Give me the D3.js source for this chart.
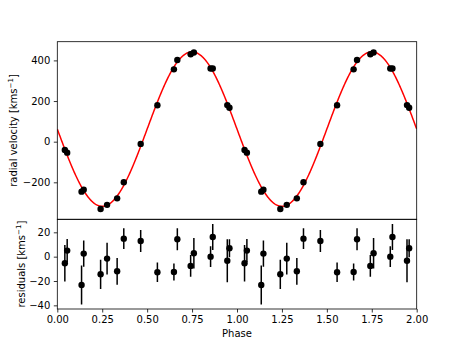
<!DOCTYPE html>
<html>
<head>
<meta charset="utf-8">
<script src="https://cdn.jsdelivr.net/npm/d3@7"></script>
<style>
  html, body { margin: 0; padding: 0; background: #fff; }
  text { font-family: "DejaVu Sans", sans-serif; }
</style>
</head>
<body>
<svg id="chart" width="463" height="347"></svg>
<script>
// ---- data ----
const phases    = [0.042, 0.055, 0.135, 0.147, 0.241, 0.277, 0.333, 0.370, 0.464, 0.557, 0.649, 0.668, 0.742, 0.760, 0.853, 0.865, 0.946, 0.958];
const rv        = [-41, -54, -246, -236, -331, -311, -279, -200, -11, 179, 356, 402, 430, 439, 360, 360, 180, 167];
const residuals = [-5.4, 5.0, -23.3, 2.5, -14.5, -1.6, -12.0, 14.8, 12.9, -12.8, -12.6, 14.3, -7.6, 2.8, 0.0, 16.2, -3.3, 6.9];
const resErr    = [15, 9.6, 16, 10.7, 12, 13, 11, 8.6, 9, 8, 7, 9, 9, 12.6, 8.5, 10.7, 17.7, 7.4];
// fitted model parameters: v = gamma - K sin(2*pi*phase)
const gamma = 62, K = 380;
const xTicks = [0, 0.25, 0.5, 0.75, 1.0, 1.25, 1.5, 1.75, 2.0];
const rvTicks = [-200, 0, 200, 400];
const resTicks = [-40, -20, 0, 20];

// ---- layout ----
const svg = d3.select("#chart");
const left = 57.3, right = 416.7;
const topT = 41.7, topB = 219.3, botB = 309;

const x = d3.scaleLinear().domain([0, 2]).range([left, right]);
const yTop = d3.scaleLinear().domain([-382, 492]).range([topB, topT]);
const yBot = d3.scaleLinear().domain([-43, 30.7]).range([botB, topB]);

const fmtX = d3.format(".2f");
const minus = s => String(s).replace("-", "\u2212");

// clip paths
const defs = svg.append("defs");
defs.append("clipPath").attr("id", "clipTop").append("rect")
  .attr("x", left).attr("y", topT).attr("width", right - left).attr("height", topB - topT);
defs.append("clipPath").attr("id", "clipBot").append("rect")
  .attr("x", left).attr("y", topB).attr("width", right - left).attr("height", botB - topB);

// duplicated points over two cycles
const pts = [];
for (let c = 0; c < 2; c++) {
  phases.forEach((p, i) => pts.push({ph: p + c, v: rv[i], r: residuals[i], e: resErr[i]}));
}

// ---- top panel ----
const gTop = svg.append("g");
const curve = d3.range(0, 2.0001, 0.002).map(p => [p, gamma - K * Math.sin(2 * Math.PI * p)]);
gTop.append("path")
  .datum(curve)
  .attr("clip-path", "url(#clipTop)")
  .attr("fill", "none").attr("stroke", "#ff0000").attr("stroke-width", 1.5)
  .attr("d", d3.line().x(d => x(d[0])).y(d => yTop(d[1])));

gTop.append("g").attr("clip-path", "url(#clipTop)")
  .selectAll("circle").data(pts).join("circle")
  .attr("cx", d => x(d.ph)).attr("cy", d => yTop(d.v)).attr("r", 3.2).attr("fill", "#000");

const yAxisTop = d3.axisLeft(yTop).tickValues(rvTicks).tickSize(3.5).tickPadding(3.5).tickFormat(d => minus(d));
const gYT = gTop.append("g").attr("transform", `translate(${left},0)`).call(yAxisTop);

gTop.append("rect").attr("x", left).attr("y", topT).attr("width", right - left).attr("height", topB - topT)
  .attr("fill", "none").attr("stroke", "#000").attr("stroke-width", 0.8);

// ---- bottom panel ----
const gBot = svg.append("g");
const gPts = gBot.append("g").attr("clip-path", "url(#clipBot)");
gPts.selectAll("line").data(pts).join("line")
  .attr("x1", d => x(d.ph)).attr("x2", d => x(d.ph))
  .attr("y1", d => yBot(d.r - d.e)).attr("y2", d => yBot(d.r + d.e))
  .attr("stroke", "#000").attr("stroke-width", 1.5);
gPts.selectAll("circle").data(pts).join("circle")
  .attr("cx", d => x(d.ph)).attr("cy", d => yBot(d.r)).attr("r", 3.2).attr("fill", "#000");

const yAxisBot = d3.axisLeft(yBot).tickValues(resTicks).tickSize(3.5).tickPadding(3.5).tickFormat(d => minus(d));
gBot.append("g").attr("transform", `translate(${left},0)`).call(yAxisBot);
const xAxis = d3.axisBottom(x).tickValues(xTicks).tickSize(3.5).tickPadding(3.5).tickFormat(fmtX);
gBot.append("g").attr("transform", `translate(0,${botB})`).call(xAxis);

gBot.append("rect").attr("x", left).attr("y", topB).attr("width", right - left).attr("height", botB - topB)
  .attr("fill", "none").attr("stroke", "#000").attr("stroke-width", 0.8);

// axis styling
svg.selectAll(".domain").remove();
svg.selectAll(".tick line").attr("stroke", "#000").attr("stroke-width", 0.8);
svg.selectAll(".tick text").attr("font-family", "DejaVu Sans, sans-serif").attr("font-size", 10).attr("fill", "#000");

// ---- labels ----
function unitLabel(sel, text) {
  sel.append("tspan").text(text + " [kms");
  sel.append("tspan").attr("font-size", 7).attr("baseline-shift", "4.5").text("\u22121");
  sel.append("tspan").text("]");
}
const lab1 = svg.append("text")
  .attr("transform", `translate(16.5,${(topT + topB) / 2}) rotate(-90)`)
  .attr("text-anchor", "middle").attr("font-size", 10).attr("fill", "#000");
unitLabel(lab1, "radial velocity");

const lab2 = svg.append("text")
  .attr("transform", `translate(24.5,${(topB + botB) / 2}) rotate(-90)`)
  .attr("text-anchor", "middle").attr("font-size", 10).attr("fill", "#000");
unitLabel(lab2, "residuals");

svg.append("text").attr("x", (left + right) / 2).attr("y", 337)
  .attr("text-anchor", "middle").attr("font-size", 10).attr("fill", "#000").text("Phase");
</script>
</body>
</html>
